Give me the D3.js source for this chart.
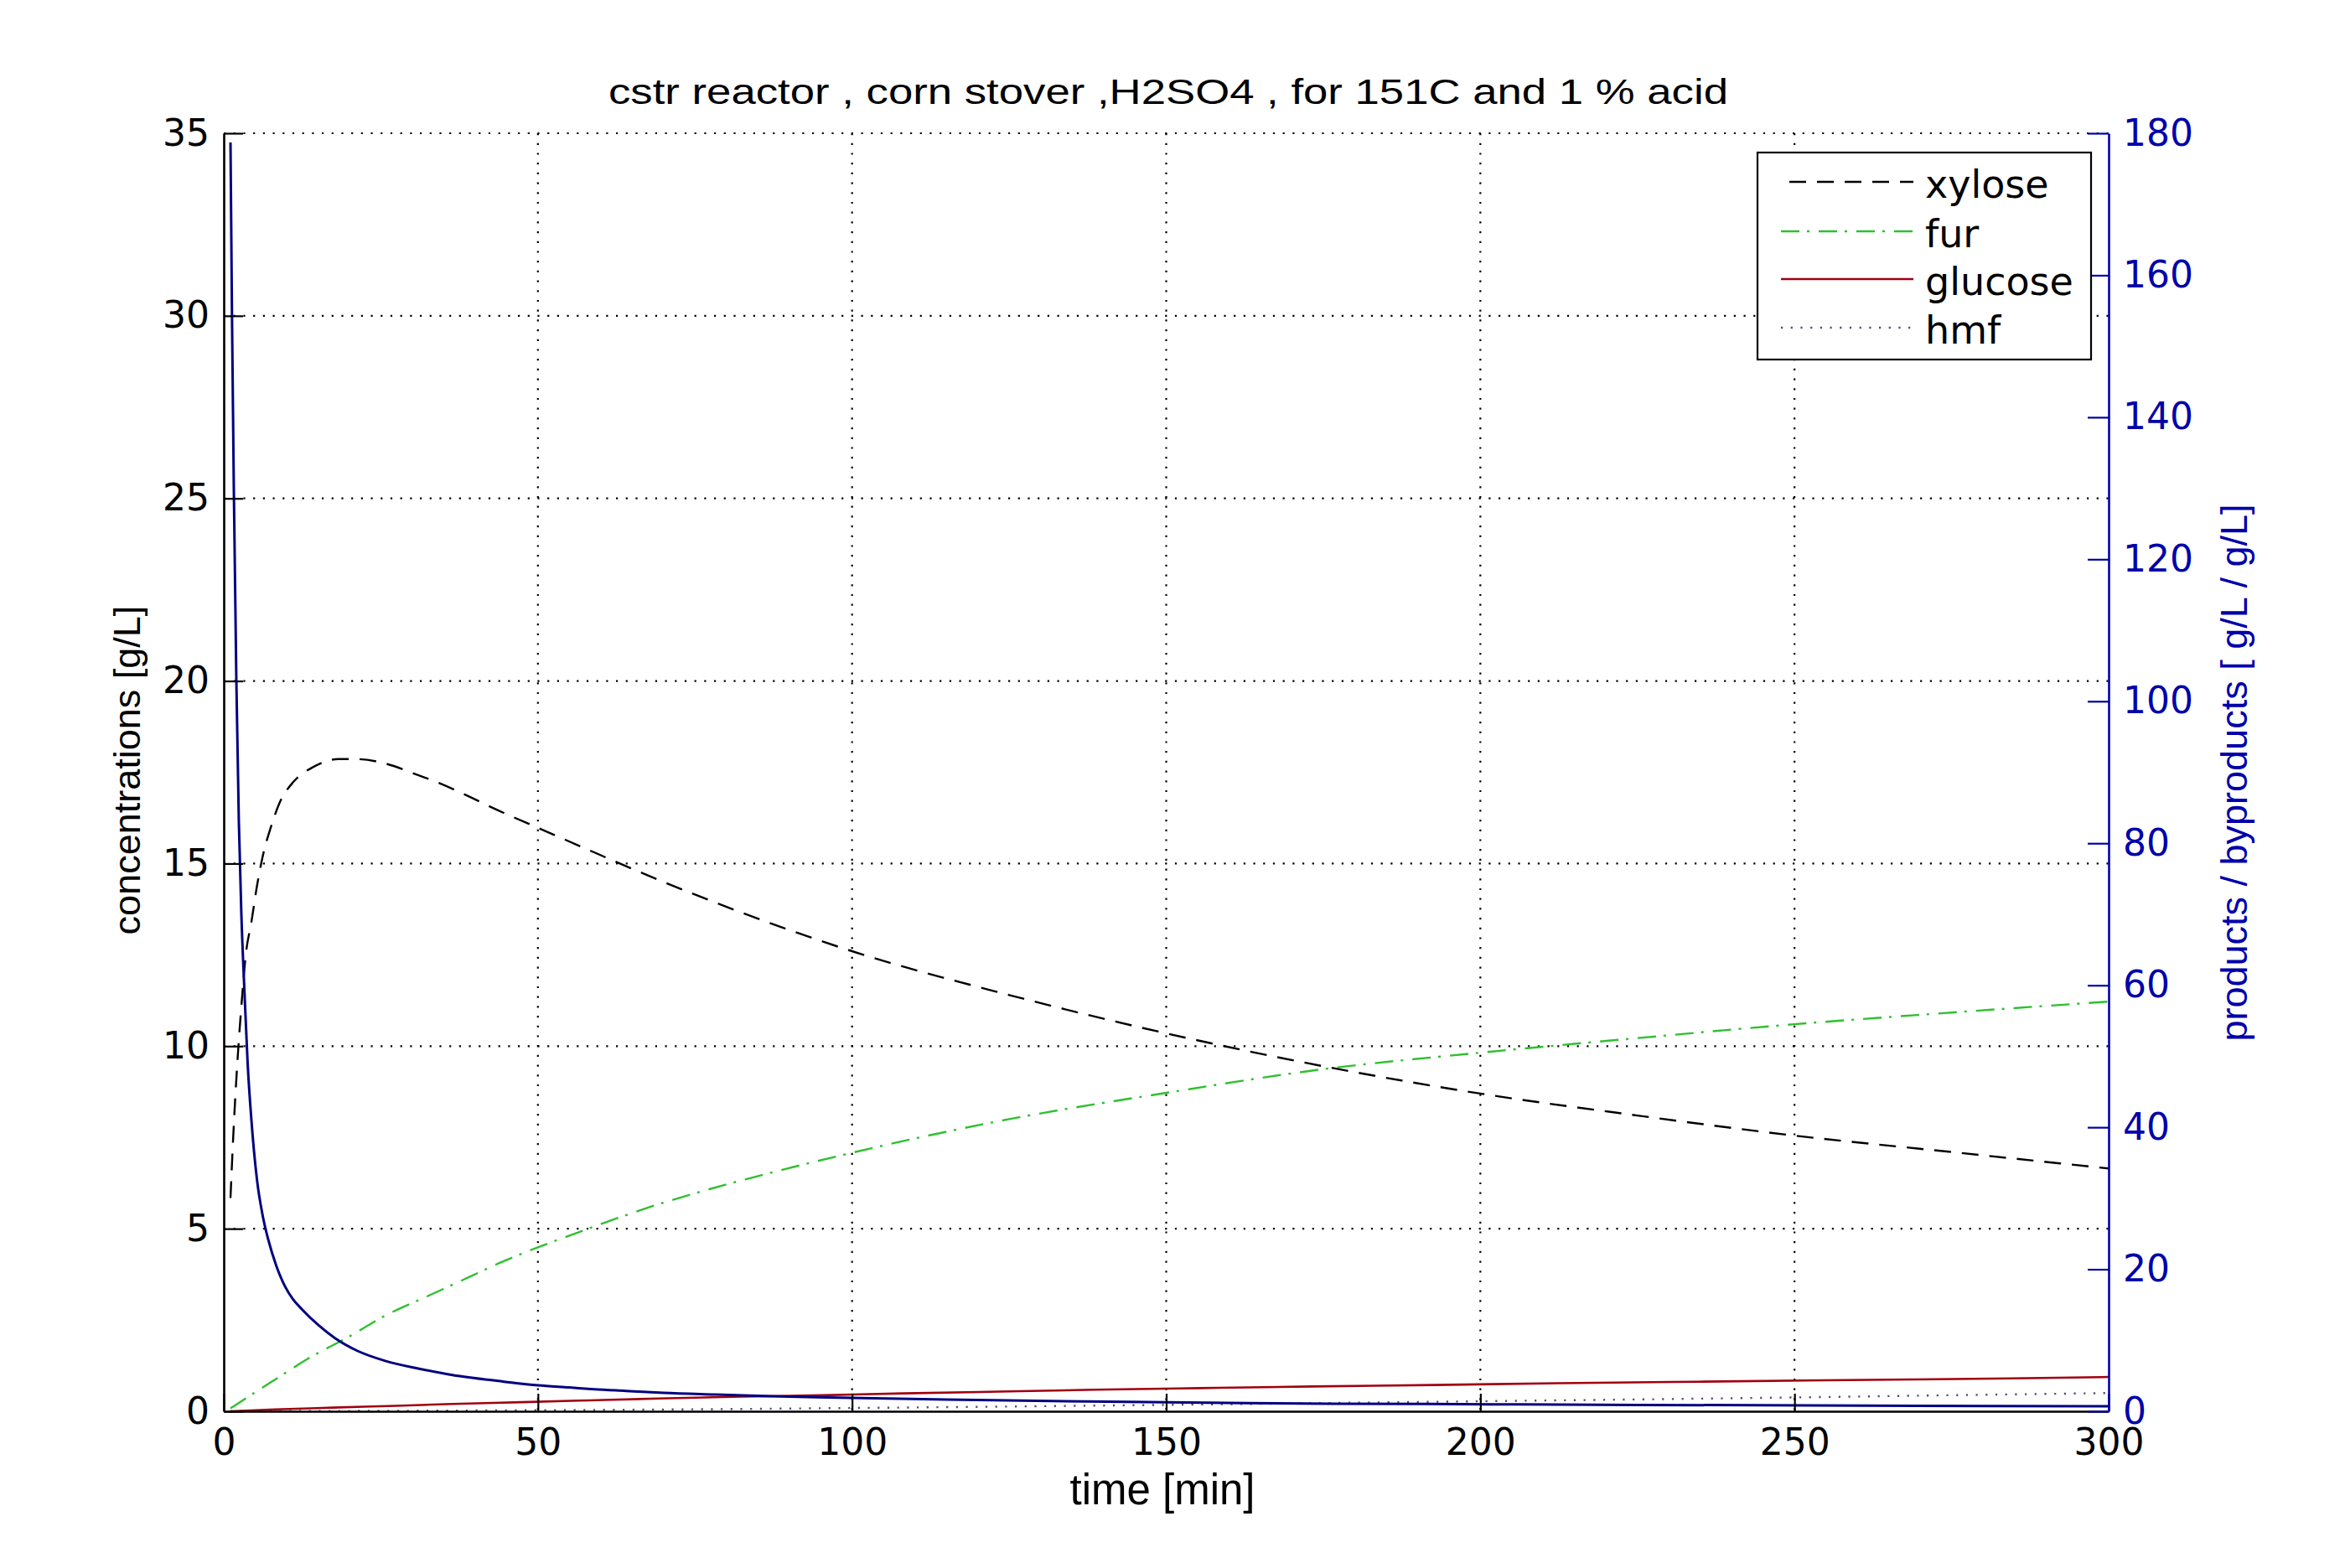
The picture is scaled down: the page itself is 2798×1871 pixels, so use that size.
<!DOCTYPE html>
<html>
<head>
<meta charset="utf-8">
<script src="https://cdn.jsdelivr.net/npm/d3@7"></script>
<style>
  html, body { margin: 0; padding: 0; background: #ffffff; }
  svg { display: block; }
</style>
</head>
<body>
<svg id="chart" width="2798" height="1871"></svg>
<script>
// ---------------- DATA ----------------
const titleText = "cstr reactor , corn stover ,H2SO4 , for 151C and 1 % acid";
const xLabel = "time [min]";
const yLeftLabel = "concentrations [g/L]";
const yRightLabel = "products / byproducts [ g/L / g/L]";

const xTicks = [0, 50, 100, 150, 200, 250, 300];
const leftTicks = [0, 5, 10, 15, 20, 25, 30, 35];
const rightTicks = [0, 20, 40, 60, 80, 100, 120, 140, 160, 180];

const seriesNames = ["xylose", "fur", "glucose", "hmf"];

// xylose [g/L] (left axis)
const xyloseTime = [1.07, 1.5, 2.18, 2.85, 3.5, 4.4, 5.3, 6.2, 7.5, 8.85, 11.1, 14.2, 18.2, 21.3, 25.7, 30.2, 34.6, 39.1, 43.5, 50, 75, 100, 125, 150, 175, 200, 225, 250, 275, 300];
const xylose     = [5.84, 7.5, 9.6, 11.2, 12.5, 13.4, 14.4, 15.2, 16.0, 16.65, 17.24, 17.64, 17.86, 17.86, 17.74, 17.47, 17.18, 16.83, 16.47, 15.98, 14.15, 12.6, 11.4, 10.35, 9.45, 8.7, 8.1, 7.55, 7.1, 6.65];

// furfural [g/L] (left axis)
const furTime = [1.07, 5, 8, 13.5, 20, 25.7, 32.4, 39.1, 44.4, 50, 57.2, 64, 69, 76, 83, 100, 125, 150, 175, 200, 225, 250, 275, 300];
const fur     = [0.08, 0.52, 0.85, 1.45, 2.05, 2.62, 3.15, 3.68, 4.1, 4.49, 4.95, 5.37, 5.66, 6.02, 6.35, 7.08, 8.0, 8.72, 9.37, 9.82, 10.22, 10.6, 10.92, 11.22];

// glucose [g/L] (left axis)
const glucoseTime = [1.07, 8.2, 17.3, 27.3, 36.4, 47.4, 58.3, 69.2, 82.3, 95.3, 108.2, 123.4, 138.5, 155.4, 173.3, 192.6, 212.4, 234.5, 258.4, 284.5, 300];
const glucose     = [0.0, 0.05, 0.10, 0.15, 0.20, 0.25, 0.30, 0.35, 0.40, 0.44, 0.49, 0.54, 0.59, 0.635, 0.68, 0.72, 0.77, 0.81, 0.855, 0.90, 0.94];

// hmf [g/L] (left axis)
const hmfTime = [1.07, 25, 50, 75, 100, 125, 150, 175, 200, 225, 250, 275, 300];
const hmf     = [0.0, 0.012, 0.03, 0.055, 0.09, 0.13, 0.175, 0.225, 0.275, 0.325, 0.38, 0.44, 0.50];

// products / byproducts [g/L / g/L] (right axis)
const ratioTime = [1.07, 1.3, 1.6, 2.0, 2.4, 2.8, 3.3, 3.8, 4.4, 5.3, 6.14, 7.07, 8.4, 9.74, 11, 12.4, 15.1, 17.7, 21.3, 25.7, 31.1, 36.4, 44.4, 50, 55, 59, 64, 70, 78, 87, 100, 115, 137, 163, 192, 225, 261, 300];
const ratio     = [178.7, 155, 130, 103, 83, 70, 59, 49, 41, 32.5, 27.8, 24.2, 20.4, 17.6, 15.8, 14.4, 12.1, 10.3, 8.5, 7.1, 6.0, 5.1, 4.2, 3.65, 3.35, 3.1, 2.87, 2.6, 2.36, 2.12, 1.89, 1.65, 1.38, 1.14, 1.02, 0.9, 0.8, 0.7];

// ---------------- CHART ----------------
const svg = d3.select("#chart");
const plot = { left: 267, right: 2516, top: 159, bottom: 1684 };

const x = d3.scaleLinear().domain([0, 300]).range([plot.left, plot.right]);
const yL = d3.scaleLinear().domain([0, 35]).range([plot.bottom, plot.top]);
const yR = d3.scaleLinear().domain([0, 180]).range([plot.bottom, plot.top]);

const tickFont = "DejaVu Sans, sans-serif";
const labelFont = "Liberation Sans, Arial, sans-serif";
const rightColor = "#0000aa";

// grid
const grid = svg.append("g").attr("class", "grid");
grid.selectAll("line.h").data(leftTicks.filter(d => d > 0)).join("line")
  .attr("x1", plot.left).attr("x2", plot.right)
  .attr("y1", d => yL(d)).attr("y2", d => yL(d))
  .attr("stroke", "#000").attr("stroke-width", 2.2).attr("stroke-dasharray", "2.2,9.5");
grid.selectAll("line.v").data(xTicks.filter(d => d > 0 && d < 300)).join("line")
  .attr("x1", d => x(d)).attr("x2", d => x(d))
  .attr("y1", plot.top).attr("y2", plot.bottom)
  .attr("stroke", "#000").attr("stroke-width", 2.2).attr("stroke-dasharray", "2.2,9.5");

// lines
function zipPts(ts, vs) { return ts.map((t, i) => [t, vs[i]]); }
const lineL = d3.line().x(d => x(d[0])).y(d => yL(d[1])).curve(d3.curveMonotoneX);
const lineR = d3.line().x(d => x(d[0])).y(d => yR(d[1])).curve(d3.curveMonotoneX);

const styles = {
  xylose:  { color: "#000000", dash: "20,13", width: 2.4 },
  fur:     { color: "#2fbf2f", dash: "22,9,3,11", width: 2.4 },
  glucose: { color: "#a00010", dash: null, width: 2.6 },
  hmf:     { color: "#5a4a78", dash: "2.2,9.5", width: 2.4 }
};

const linesG = svg.append("g");
linesG.append("path").datum(zipPts(hmfTime, hmf)).attr("d", lineL)
  .attr("fill", "none").attr("stroke", styles.hmf.color).attr("stroke-width", styles.hmf.width)
  .attr("stroke-dasharray", styles.hmf.dash);
linesG.append("path").datum(zipPts(glucoseTime, glucose)).attr("d", lineL)
  .attr("fill", "none").attr("stroke", styles.glucose.color).attr("stroke-width", styles.glucose.width);
linesG.append("path").datum(zipPts(furTime, fur)).attr("d", lineL)
  .attr("fill", "none").attr("stroke", styles.fur.color).attr("stroke-width", styles.fur.width)
  .attr("stroke-dasharray", styles.fur.dash);
linesG.append("path").datum(zipPts(xyloseTime, xylose)).attr("d", lineL)
  .attr("fill", "none").attr("stroke", styles.xylose.color).attr("stroke-width", styles.xylose.width)
  .attr("stroke-dasharray", styles.xylose.dash);
linesG.append("path").datum(zipPts(ratioTime, ratio)).attr("d", lineR)
  .attr("fill", "none").attr("stroke", "#000080").attr("stroke-width", 3);

// axes
function styleAxis(g, color) {
  g.selectAll(".domain").attr("stroke", color).attr("stroke-width", 2.6);
  g.selectAll(".tick line").attr("stroke", color).attr("stroke-width", 2.2);
  g.selectAll(".tick text").attr("fill", color).attr("font-family", tickFont).attr("font-size", 44);
}

const gx = svg.append("g").attr("transform", `translate(0,${plot.bottom})`)
  .call(d3.axisBottom(x).tickValues(xTicks).tickSize(-21).tickSizeOuter(0).tickPadding(21).tickFormat(d3.format("d")));
styleAxis(gx, "#000");

const gl = svg.append("g").attr("transform", `translate(${plot.left},0)`)
  .call(d3.axisLeft(yL).tickValues(leftTicks).tickSize(-23).tickSizeOuter(0).tickPadding(17).tickFormat(d3.format("d")));
styleAxis(gl, "#000");

const gr = svg.append("g").attr("transform", `translate(${plot.right},0)`)
  .call(d3.axisRight(yR).tickValues(rightTicks).tickSize(-25).tickSizeOuter(0).tickPadding(17).tickFormat(d3.format("d")));
styleAxis(gr, rightColor);

// title & labels
svg.append("text").attr("x", 1394).attr("y", 124).attr("text-anchor", "middle")
  .attr("font-family", labelFont).attr("font-size", 42)
  .attr("textLength", 1336).attr("lengthAdjust", "spacingAndGlyphs")
  .text(titleText);

svg.append("text").attr("x", 1387).attr("y", 1795).attr("text-anchor", "middle")
  .attr("font-family", labelFont).attr("font-size", 51)
  .text(xLabel);

svg.append("text").attr("transform", "translate(167,919) rotate(-90)").attr("text-anchor", "middle")
  .attr("font-family", labelFont).attr("font-size", 45)
  .text(yLeftLabel);

svg.append("text").attr("transform", "translate(2681,922) rotate(-90)").attr("text-anchor", "middle")
  .attr("font-family", labelFont).attr("font-size", 45).attr("fill", rightColor)
  .text(yRightLabel);

// legend
const legend = svg.append("g");
legend.append("rect").attr("x", 2097).attr("y", 182).attr("width", 398).attr("height", 247)
  .attr("fill", "#fff").attr("stroke", "#000").attr("stroke-width", 2.2);
const rowY = [217, 276, 333, 391];
seriesNames.forEach((name, i) => {
  const s = styles[name];
  legend.append("line").attr("x1", name === "xylose" ? 2135 : 2125).attr("x2", 2283)
    .attr("y1", rowY[i]).attr("y2", rowY[i])
    .attr("stroke", s.color).attr("stroke-width", s.width)
    .attr("stroke-dasharray", s.dash);
  legend.append("text").attr("x", 2297).attr("y", rowY[i] + 19)
    .attr("font-family", tickFont).attr("font-size", 46)
    .text(name);
});
</script>
</body>
</html>
